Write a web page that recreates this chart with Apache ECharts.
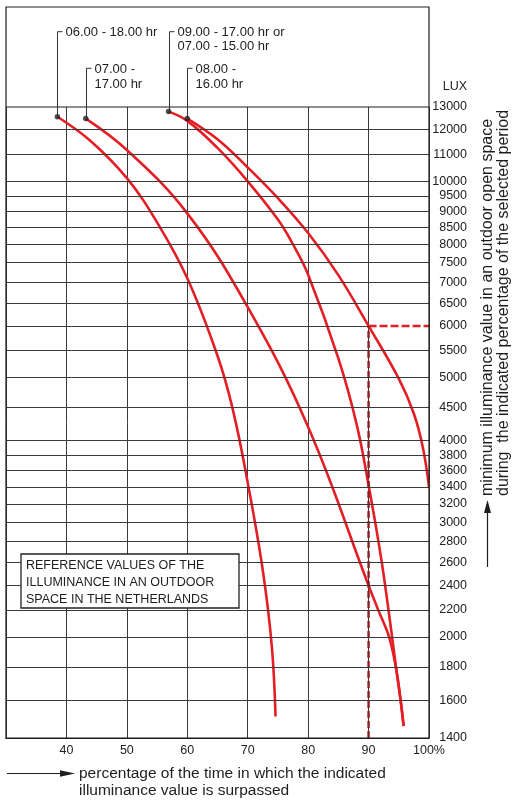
<!DOCTYPE html>
<html><head><meta charset="utf-8">
<script src="https://cdn.jsdelivr.net/npm/echarts@6/dist/echarts.min.js"></script>
<style>html,body{margin:0;padding:0;background:#fff}#c{width:512px;height:801px}</style>
</head><body><div id="c"></div>
<script>
// ---- data ----
const xTickValues = [40, 50, 60, 70, 80, 90, 100];
const xTickLabels = ['40', '50', '60', '70', '80', '90', '100%'];
const luxTicks = [13000, 12000, 11000, 10000, 9500, 9000, 8500, 8000, 7500, 7000, 6500, 6000, 5500, 5000, 4500, 4000, 3800, 3600, 3400, 3200, 3000, 2800, 2600, 2400, 2200, 2000, 1800, 1600, 1400];
const curveNames = ['06.00 - 18.00 hr', '07.00 - 17.00 hr', '09.00 - 17.00 hr or 07.00 - 15.00 hr', '08.00 - 16.00 hr'];
const labelTexts = ['06.00 - 18.00 hr', '07.00 -\n17.00 hr', '09.00 - 17.00 hr or\n07.00 - 15.00 hr', '08.00 -\n16.00 hr'];
const curve0618 = [[38.5,12560],[44,11530],[50,10110],[55,8650],[60,7100],[65,5400],[67.5,4480],[70,3450],[72.5,2530],[74,1930],[74.6,1510]];
const curve0717 = [[43.2,12480],[50,11170],[60,8930],[70,6410],[80,4200],[90,2400],[91.6,2200],[93.4,2000],[94.6,1780],[95.3,1600],[95.8,1460]];
const curve0917 = [[56.9,12790],[60,12380],[65,11250],[70,10000],[75,8735],[77.5,8000],[80,7190],[85,5350],[88,4250],[90,3420],[92,2670],[93.3,2200],[94.6,1780],[95.3,1600],[95.8,1460]];
const curve0816 = [[60,12480],[65,11600],[70,10500],[75,9420],[80,8330],[85,7180],[90,6000],[95,4980],[97.5,4400],[99,3900],[100,3400]];
const refPercent = 90;
const refLux = 6000;
const xMin = 30, xMax = 100, yMin = 1400, yMax = 13000;

const curves = [curve0618, curve0717, curve0917, curve0816];
const FONT = '"Liberation Sans", Arial, Helvetica, sans-serif';
const RED = '#e51e25';
const INK = '#1e1e1e';

const chart = echarts.init(document.getElementById('c'), null, {renderer: 'canvas'});

const gridLineData = luxTicks
  .filter(v => v !== yMax && v !== yMin && v !== refLux)
  .map(v => ({yAxis: v}));
gridLineData.push([{coord: [xMin, refLux]}, {coord: [refPercent, refLux]}]);

const option = {
  animation: false,
  backgroundColor: '#fff',
  grid: {left: 6, right: 83, top: 107, bottom: 63, containLabel: false},
  xAxis: {
    type: 'value', min: xMin, max: xMax, interval: 10,
    axisLine: {show: true, lineStyle: {color: INK, width: 1.2}},
    axisTick: {show: false},
    splitLine: {show: true, lineStyle: {color: '#3a3a3a', width: 1}},
    axisLabel: {
      margin: 6, fontSize: 12.5, color: '#222', fontFamily: FONT, showMaxLabel: true,
      formatter: v => { const i = xTickValues.indexOf(Math.round(v)); return i < 0 ? '' : xTickLabels[i]; }
    }
  },
  yAxis: {
    type: 'log', logBase: 10, min: yMin, max: yMax, position: 'right',
    axisLine: {show: false},
    axisTick: {show: false},
    splitLine: {show: false},
    axisLabel: {
      customValues: luxTicks,
      align: 'right', margin: 38, fontSize: 12.5, color: '#222', fontFamily: FONT,
      formatter: v => String(Math.round(v))
    }
  },
  series: [
    {
      type: 'line', data: [], z: 1, silent: true,
      markLine: {
        silent: true, animation: false, symbol: ['none', 'none'],
        label: {show: false},
        lineStyle: {color: '#3a3a3a', width: 1, type: 'solid'},
        emphasis: {disabled: true},
        data: gridLineData
      }
    },
    ...curves.map((c, i) => ({
      name: curveNames[i], type: 'line', data: c, smooth: 0.4, showSymbol: false,
      z: 3, silent: true,
      lineStyle: {color: RED, width: 2.6}
    })),
    {
      type: 'line', data: [[refPercent, yMin], [refPercent, refLux]], showSymbol: false, z: 4, silent: true,
      lineStyle: {color: '#8e1c20', width: 2.4, type: [7, 3]}
    },
    {
      type: 'line', data: [[refPercent, refLux], [xMax, refLux]], showSymbol: false, z: 4, silent: true,
      lineStyle: {color: RED, width: 2.4, type: [8, 3]}
    },
    {
      type: 'scatter', data: curves.map(c => c[0]), symbolSize: 5.5, z: 6, silent: true,
      itemStyle: {color: '#222'}
    }
  ]
};
chart.setOption(option);

// ---- annotations (leaders positioned from the library's own conversion) ----
const leaderTop = [31.7, 68.3, 31.7, 68.3];
const labelLH = [14, 15, 13.5, 15];
const graphics = [];
curves.forEach((c, i) => {
  const p = chart.convertToPixel({xAxisIndex: 0, yAxisIndex: 0}, c[0]);
  const x = Math.round(p[0]) + 0.5;
  graphics.push({
    type: 'polyline', z: 20, silent: true,
    shape: {points: [[x, p[1]], [x, leaderTop[i]], [x + 5, leaderTop[i]]]},
    style: {stroke: '#333', lineWidth: 1, fill: null}
  });
  graphics.push({
    type: 'text', z: 20, silent: true, x: x + 8, y: leaderTop[i] + 1 - labelLH[i] / 2,
    style: {text: labelTexts[i], fontSize: 13, fontFamily: FONT, fill: INK, lineHeight: labelLH[i],
            align: 'left', verticalAlign: 'top'}
  });
});
// outer frame
graphics.push({type: 'rect', z: 15, silent: true, shape: {x: 6, y: 7, width: 423, height: 731},
  style: {fill: null, stroke: INK, lineWidth: 1.2}});
// top border of plot
graphics.push({type: 'line', z: 15, silent: true, shape: {x1: 6, y1: 107, x2: 429, y2: 107},
  style: {stroke: INK, lineWidth: 1.2}});
// LUX
graphics.push({type: 'text', z: 20, silent: true, x: 467, y: 87,
  style: {text: 'LUX', fontSize: 12.5, fontFamily: FONT, fill: INK, align: 'right', verticalAlign: 'middle'}});
// reference box
graphics.push({type: 'rect', z: 20, silent: true, shape: {x: 21, y: 554, width: 218, height: 54},
  style: {fill: '#fff', stroke: '#222', lineWidth: 1.3}});
graphics.push({type: 'text', z: 21, silent: true, x: 26, y: 557,
  style: {text: 'REFERENCE VALUES OF THE\nILLUMINANCE IN AN OUTDOOR\nSPACE IN THE NETHERLANDS',
          fontSize: 12.5, fontFamily: FONT, fill: INK, lineHeight: 17, align: 'left', verticalAlign: 'top'}});
// right rotated title
graphics.push({type: 'text', z: 20, silent: true, x: 495.5, y: 496, rotation: Math.PI / 2,
  style: {text: 'minimum illuminance value in an outdoor open space\nduring  the indicated percentage of the selected period',
          fontSize: 16, fontFamily: FONT, fill: INK, lineHeight: 16, align: 'left', verticalAlign: 'middle'}});
// right arrow
graphics.push({type: 'line', z: 20, silent: true, shape: {x1: 487.5, y1: 567, x2: 487.5, y2: 510},
  style: {stroke: INK, lineWidth: 1.2}});
graphics.push({type: 'polygon', z: 20, silent: true, shape: {points: [[484, 513], [487.5, 500], [491, 513]]},
  style: {fill: INK}});
// bottom arrow + text
graphics.push({type: 'line', z: 20, silent: true, shape: {x1: 7, y1: 773.5, x2: 64, y2: 773.5},
  style: {stroke: INK, lineWidth: 1.2}});
graphics.push({type: 'polygon', z: 20, silent: true, shape: {points: [[60, 770.3], [75, 773.5], [60, 776.7]]},
  style: {fill: INK}});
graphics.push({type: 'text', z: 20, silent: true, x: 79, y: 764.5,
  style: {text: 'percentage of the time in which the indicated\nilluminance value is surpassed',
          fontSize: 15.5, fontFamily: FONT, fill: INK, lineHeight: 17.7, align: 'left', verticalAlign: 'top'}});

chart.setOption({graphic: graphics});
</script>
</body></html>
